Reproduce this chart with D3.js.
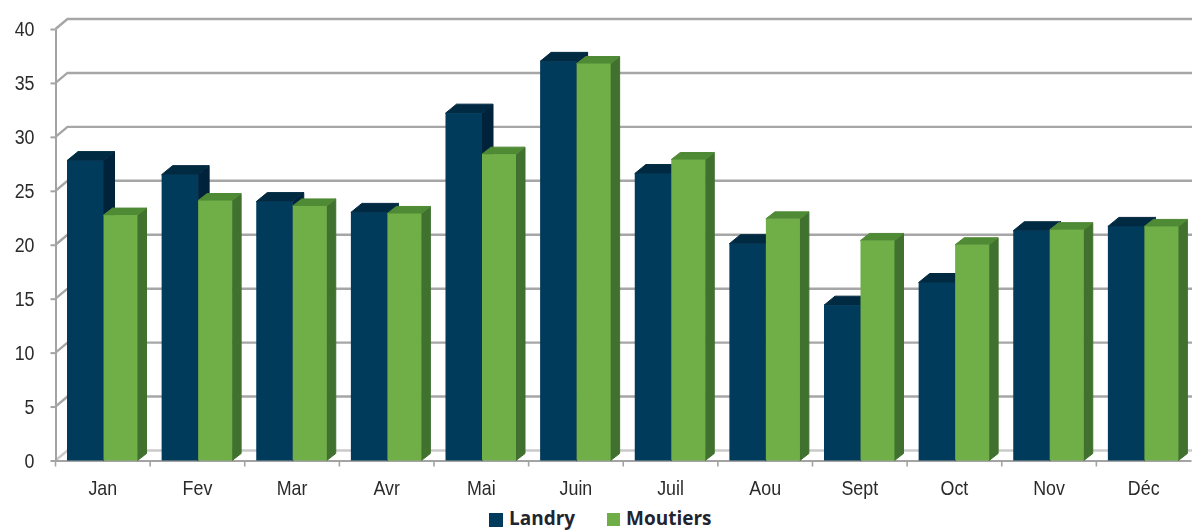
<!DOCTYPE html>
<html lang="fr">
<head>
<meta charset="UTF-8">
<title>Landry / Moutiers</title>
<script src="https://cdnjs.cloudflare.com/ajax/libs/d3/7.8.5/d3.min.js"></script>
<style>
  html, body { margin: 0; padding: 0; background: #fff; }
  svg { display: block; }
  .axis text { font-family: "Liberation Sans", Arial, sans-serif; font-size: 21px; fill: #2b2b2b; }
  .axis .domain, .axis .tick line { stroke: #a3a3a3; stroke-width: 2; }
  .grid { stroke: #a6a6a6; stroke-width: 2.4; fill: none; }
  .legend text { font-family: "Open Sans", sans-serif; font-weight: 700; font-size: 19px; fill: #1f2530; }
</style>
</head>
<body>
<div id="chart"></div>
<script>
var months = ["Jan", "Fev", "Mar", "Avr", "Mai", "Juin", "Juil", "Aou", "Sept", "Oct", "Nov", "Déc"];
var landry = [27.8, 26.5, 24.0, 23.0, 32.2, 37.0, 26.6, 20.1, 14.4, 16.5, 21.3, 21.7];
var moutiers = [22.75, 24.1, 23.6, 22.9, 28.4, 36.8, 27.9, 22.4, 20.4, 20.0, 21.4, 21.7];
var yTicks = [0, 5, 10, 15, 20, 25, 30, 35, 40];

var width = 1192, height = 530;
var plotLeft = 55.5, plotRight = 1191, plotTop = 29, plotBottom = 460.5;
var wallDx = 12, wallDy = 10;   // offset of the back wall
var labelSquash = 0.85;         // the labels are a narrow face in the original

var svg = d3.select("#chart").append("svg").attr("width", width).attr("height", height);

var defs = svg.append("defs");
defs.append("filter").attr("id", "soft")
  .append("feGaussianBlur").attr("stdDeviation", 0.45);

var y = d3.scaleLinear().domain([0, 40]).range([plotBottom, plotTop]);
var x = d3.scaleBand().domain(months).range([plotLeft, plotRight]).paddingInner(0).paddingOuter(0);

var root = svg.append("g").attr("filter", "url(#soft)");

// back wall + floor
var grid = root.append("g");
grid.selectAll("path").data(yTicks).enter().append("path")
  .attr("class", "grid")
  .attr("stroke-opacity", function(d) { return d === 0 ? 0.6 : 1; })
  .attr("d", function(d) {
    var p = d3.path();
    p.moveTo(plotLeft, y(d));
    p.lineTo(plotLeft + wallDx, y(d) - wallDy);
    p.lineTo(width, y(d) - wallDy);
    return p.toString();
  });

// axes
var yAxis = root.append("g").attr("class", "axis")
  .attr("transform", "translate(" + plotLeft + ",0)")
  .call(d3.axisLeft(y).tickValues(yTicks).tickSize(5).tickSizeOuter(0));
yAxis.selectAll("text")
  .attr("x", -21 / labelSquash)
  .attr("transform", "scale(" + labelSquash + ",1)");

var xAxis = root.append("g").attr("class", "axis")
  .attr("transform", "translate(0," + plotBottom + ")")
  .call(d3.axisBottom(x).tickSize(0).tickPadding(20));
xAxis.selectAll("text")
  .attr("transform", "scale(" + labelSquash + ",1)");

// month separators, the ticks fall between the bands
xAxis.selectAll("line.sep").data(months).enter().append("line")
  .attr("class", "sep")
  .attr("x1", function(d) { return x(d); })
  .attr("x2", function(d) { return x(d); })
  .attr("y1", 0).attr("y2", 6)
  .attr("stroke", "#a3a3a3").attr("stroke-width", 1.6);

var series = [
  { name: "Landry", values: landry, off: 11.5, w: 36.5, dx: 11, dy: 9, front: "#003b5c", side: "#00243a", top: "#002a42" },
  { name: "Moutiers", values: moutiers, off: 48, w: 34, dx: 9, dy: 7, front: "#6fae46", side: "#41712f", top: "#4f8a35" }
];

series.forEach(function(s) {
  var g = root.append("g");
  var bars = g.selectAll("g").data(s.values).enter().append("g");
  function bx(i) { return x(months[i]) + s.off; }

  bars.append("path").attr("fill", s.side)
    .attr("stroke", s.side).attr("stroke-width", 1).attr("stroke-linejoin", "round")
    .attr("d", function(d, i) {
      var r = bx(i) + s.w, t = y(d);
      return "M" + r + "," + t + "L" + (r + s.dx) + "," + (t - s.dy) +
        "L" + (r + s.dx) + "," + (plotBottom - s.dy) + "L" + r + "," + plotBottom + "Z";
    });
  bars.append("path").attr("fill", s.top)
    .attr("stroke", s.top).attr("stroke-width", 1).attr("stroke-linejoin", "round")
    .attr("d", function(d, i) {
      var l = bx(i), t = y(d);
      return "M" + l + "," + t + "L" + (l + s.dx) + "," + (t - s.dy) +
        "L" + (l + s.w + s.dx) + "," + (t - s.dy) + "L" + (l + s.w) + "," + t + "Z";
    });
  bars.append("rect").attr("fill", s.front)
    .attr("x", function(d, i) { return bx(i); })
    .attr("y", function(d) { return y(d); })
    .attr("width", s.w)
    .attr("height", function(d) { return plotBottom - y(d); });
});

// legend
var legend = svg.append("g").attr("class", "legend");
var legendItems = [
  { name: "Landry", color: "#003b5c", sx: 489, tx: 509, size: 14 },
  { name: "Moutiers", color: "#6fae46", sx: 607, tx: 626, size: 13 }
];
legendItems.forEach(function(d) {
  legend.append("rect").attr("x", d.sx).attr("y", 513).attr("width", d.size).attr("height", d.size).attr("fill", d.color);
  legend.append("text").attr("x", d.tx).attr("y", 525).text(d.name);
});
</script>
</body>
</html>
